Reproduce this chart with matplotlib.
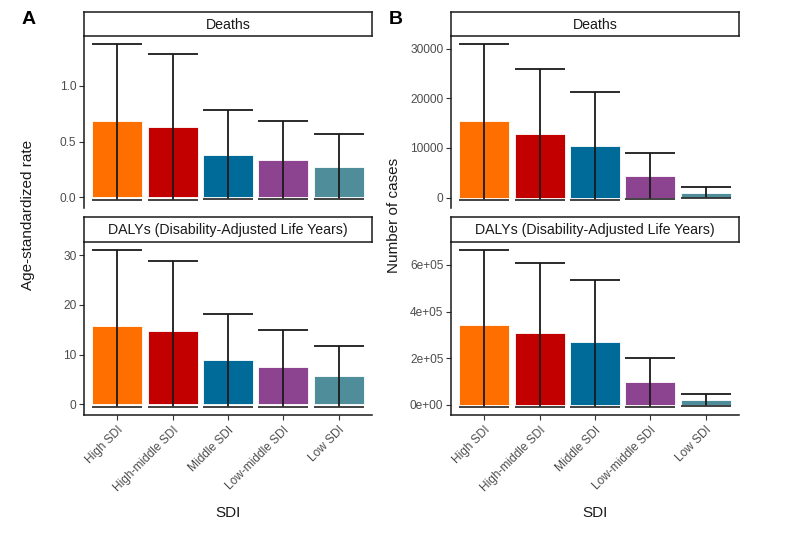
import matplotlib
matplotlib.use('Agg')
import matplotlib.pyplot as plt
import numpy as np

plt.rcParams['font.family'] = ['Liberation Sans', 'DejaVu Sans']

# categories and colours
sdi = ['High SDI', 'High-middle SDI', 'Middle SDI', 'Low-middle SDI', 'Low SDI']
colors = ['#FF6F00', '#C20000', '#006A99', '#8D4490', '#508D9A']

# A: age-standardized rate
rate_deaths = [0.684, 0.634, 0.378, 0.333, 0.273]
rate_deaths_lo = [-0.024, -0.022, -0.012, -0.012, -0.012]
rate_deaths_hi = [1.375, 1.286, 0.780, 0.687, 0.571]
rate_dalys = [15.8, 14.7, 9.0, 7.4, 5.7]
rate_dalys_lo = [-0.6, -0.6, -0.5, -0.6, -0.6]
rate_dalys_hi = [31.1, 28.8, 18.1, 14.9, 11.7]

# B: number of cases
n_deaths = [15440, 12900, 10340, 4430, 1000]
n_deaths_lo = [-540, -540, -540, -340, -150]
n_deaths_hi = [31030, 26000, 21370, 9070, 2200]
n_dalys = [340400, 310000, 269600, 98300, 18700]
n_dalys_lo = [-10400, -10400, -10400, -10400, -4400]
n_dalys_hi = [665000, 610000, 536000, 201000, 47800]

W, H = 792, 544
fig = plt.figure(figsize=(W / 100, H / 100), dpi=100)

def px(x0, y0, x1, y1):
    return [x0 / W, 1 - y1 / H, (x1 - x0) / W, (y1 - y0) / H]

tick_col = '#4D4D4D'
line_col = '#1a1a1a'

def strip(rect, label):
    s = fig.add_axes(px(*rect))
    s.set_xticks([]); s.set_yticks([])
    for sp in s.spines.values():
        sp.set_linewidth(1.1)
        sp.set_color(line_col)
    s.text(0.5, 0.47, label, ha='center', va='center', fontsize=10.2, color='#1a1a1a',
           transform=s.transAxes)

def panel(rect, vals, lo, hi, yticks, ylabels, bottom):
    ax = fig.add_axes(px(*rect))
    ax.patch.set_alpha(0)
    x = np.arange(1, len(sdi) + 1)
    ax.bar(x, vals, width=0.9, color=colors, edgecolor='white', linewidth=0.6, zorder=2)
    ax.vlines(x, lo, hi, color=line_col, linewidth=1.3, zorder=3)
    ax.hlines(hi, x - 0.45, x + 0.45, color=line_col, linewidth=1.3, zorder=3)
    ax.hlines(lo, x - 0.45, x + 0.45, color='#333333', linewidth=1.3, zorder=3)
    mn, mx = min(lo), max(hi)
    pad = (mx - mn) * 0.05
    ax.set_ylim(mn - pad, mx + pad)
    ax.set_xlim(0.4, 5.6)
    ax.set_yticks(yticks)
    ax.set_yticklabels(ylabels)
    for s in ['top', 'right']:
        ax.spines[s].set_visible(False)
    ax.spines['left'].set_linewidth(1.1)
    ax.spines['left'].set_color(line_col)
    ax.tick_params(axis='y', length=3.5, width=0.8, color='#333333', labelcolor=tick_col,
                   labelsize=8.6, pad=2)
    if bottom:
        ax.spines['bottom'].set_linewidth(1.1)
        ax.spines['bottom'].set_color(line_col)
        ax.set_xticks(x)
        ax.set_xticklabels(sdi, rotation=45, ha='right', rotation_mode='anchor')
        ax.tick_params(axis='x', length=3.5, width=0.8, color='#333333', labelcolor=tick_col,
                       labelsize=8.6, pad=3)
        ax.set_xlabel('SDI', fontsize=11, color='#1a1a1a', labelpad=9)
    else:
        ax.spines['bottom'].set_visible(False)
        ax.set_xticks([])
    return ax

for (xl, xr, title_y, data, letter, lx, tx) in [
    (84, 372, 'Age-standardized rate',
     [(rate_deaths, rate_deaths_lo, rate_deaths_hi, [0.0, 0.5, 1.0], ['0.0', '0.5', '1.0']),
      (rate_dalys, rate_dalys_lo, rate_dalys_hi, [0, 10, 20, 30], ['0', '10', '20', '30'])],
     'A', 22, 28),
    (451, 739, 'Number of cases',
     [(n_deaths, n_deaths_lo, n_deaths_hi, [0, 10000, 20000, 30000], ['0', '10000', '20000', '30000']),
      (n_dalys, n_dalys_lo, n_dalys_hi, [0, 200000, 400000, 600000], ['0e+00', '2e+05', '4e+05', '6e+05'])],
     'B', 389, 394)]:
    a1 = panel((xl, 36, xr, 208), *data[0], bottom=False)
    a2 = panel((xl, 242, xr, 415), *data[1], bottom=True)
    strip((xl, 12, xr, 36), 'Deaths')
    strip((xl, 217, xr, 242), 'DALYs (Disability-Adjusted Life Years)')
    fig.text(lx / W, 1 - 19 / H, letter, fontsize=14, fontweight='bold', ha='left', va='center')
    fig.text(tx / W, 1 - 215 / H, title_y, rotation=90, fontsize=11, color='#1a1a1a',
             ha='center', va='center')

fig.savefig('out.png', dpi=100)
